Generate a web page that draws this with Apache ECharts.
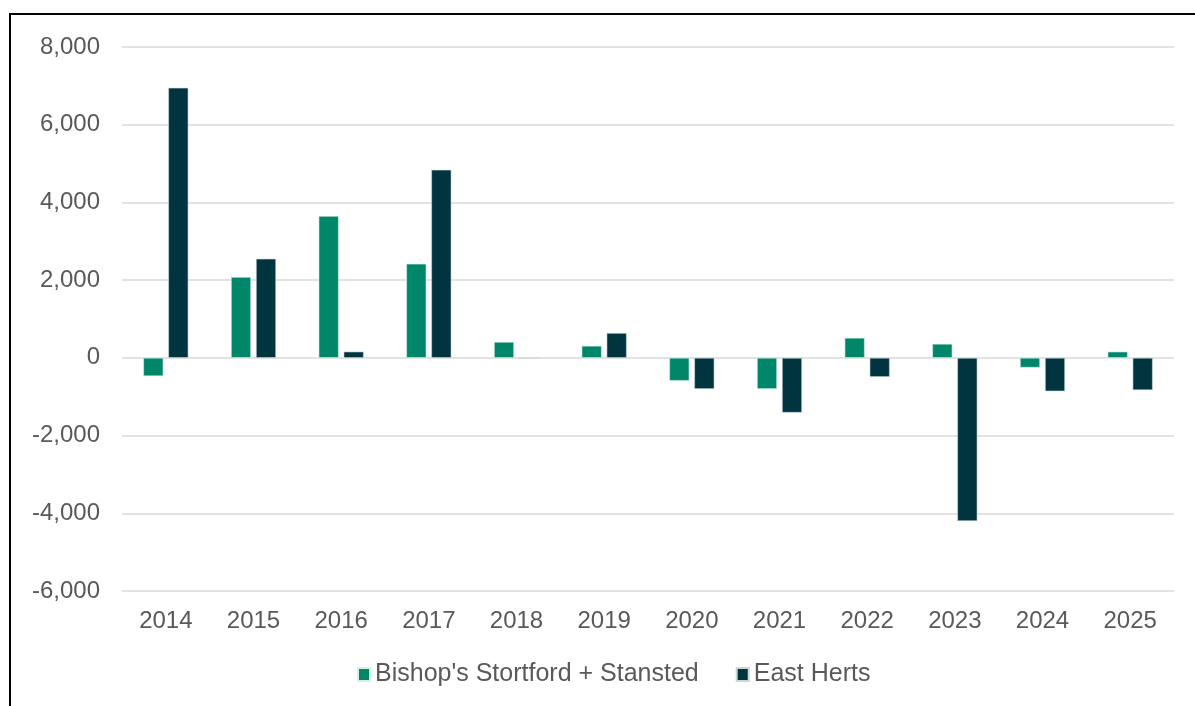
<!DOCTYPE html>
<html>
<head>
<meta charset="utf-8">
<script src="https://cdn.jsdelivr.net/npm/echarts@6/dist/echarts.min.js"></script>
<style>
  body { margin: 0; background: #fff; }
  #chart { width: 1195px; height: 706px; }
</style>
</head>
<body>
<div id="chart"></div>
<script>
// 数据
var years = ['2014', '2015', '2016', '2017', '2018', '2019', '2020', '2021', '2022', '2023', '2024', '2025'];
var bishops = [-470, 2080, 3650, 2420, 410, 310, -590, -800, 515, 360, -250, 160];
var eastHerts = [6950, 2550, 160, 4840, 0, 640, -800, -1410, -490, -4200, -860, -830];

var myChart = echarts.init(document.getElementById('chart'));

var labelFont = { color: '#595959', fontSize: 24, fontFamily: 'Liberation Sans, Arial, sans-serif' };

var option = {
    animation: false,
    graphic: [{
        type: 'rect',
        shape: { x: 10, y: 14, width: 1200, height: 720 },
        style: { fill: 'none', stroke: '#000', lineWidth: 2 }
    }],
    grid: { left: 122, right: 21, top: 47, bottom: 115 },
    legend: {
        top: 662,
        left: 357,
        padding: 0,
        itemWidth: 12,
        itemHeight: 13,
        itemGap: 37,
        icon: 'rect',
        textStyle: { color: '#595959', fontSize: 25, fontFamily: 'Liberation Sans, Arial, sans-serif' },
        data: ["Bishop's Stortford + Stansted", 'East Herts']
    },
    xAxis: {
        type: 'category',
        data: years,
        axisLine: { show: false, onZero: false },
        axisTick: { show: false },
        axisLabel: Object.assign({ margin: 18 }, labelFont)
    },
    yAxis: {
        type: 'value',
        min: -6000,
        max: 8000,
        interval: 2000,
        axisLabel: Object.assign({
            margin: 22,
            formatter: function (v) { return v.toLocaleString('en-US'); }
        }, labelFont),
        splitLine: { lineStyle: { color: '#d9d9d9', width: 1.5 } }
    },
    series: [{
        name: "Bishop's Stortford + Stansted",
        type: 'bar',
        data: bishops,
        barWidth: 20,
        barGap: '25%',
        itemStyle: { color: '#00876a', borderColor: '#d6efe8', borderWidth: 0.6 }
    }, {
        name: 'East Herts',
        type: 'bar',
        data: eastHerts,
        barWidth: 20,
        itemStyle: { color: '#00343e', borderColor: '#c9d6d8', borderWidth: 0.6 }
    }]
};

myChart.setOption(option, true);
</script>
</body>
</html>
